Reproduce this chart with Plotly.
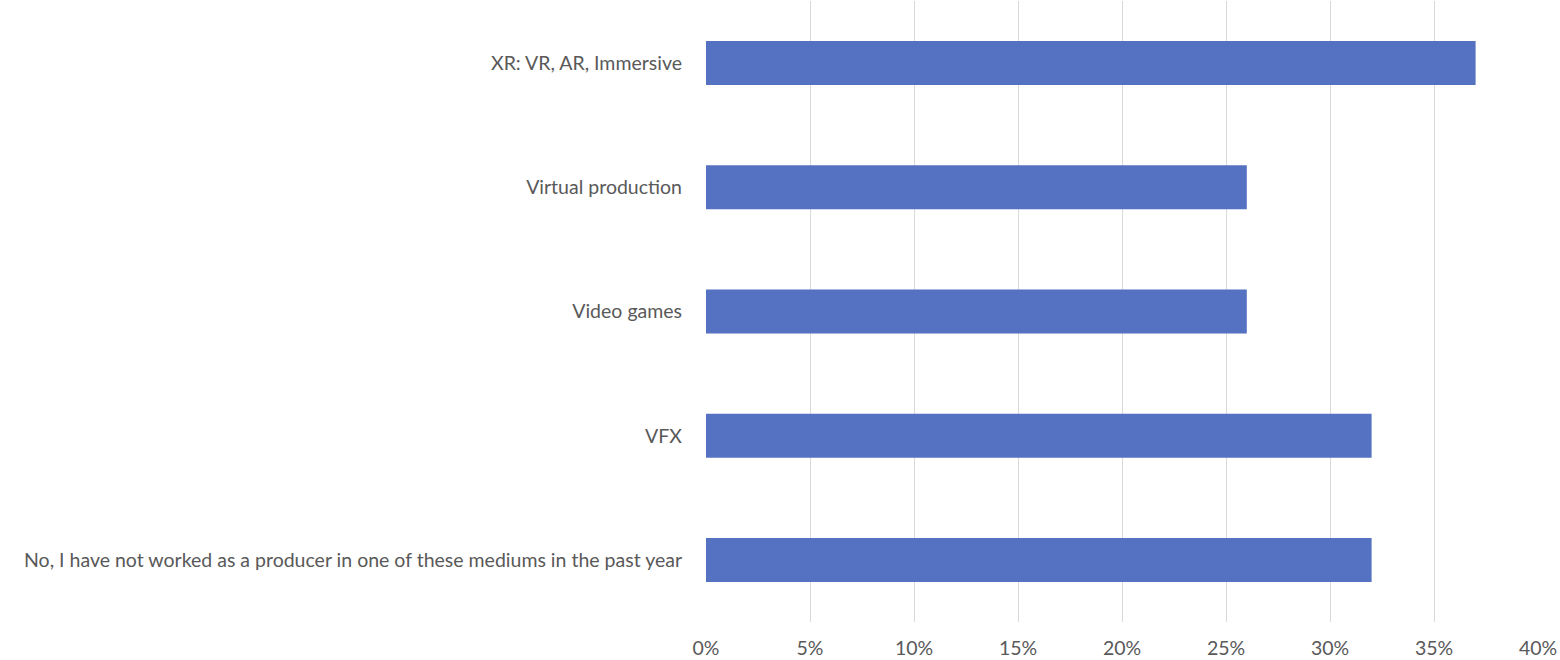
import plotly.graph_objects as go

# Survey responses: share of producers working in each medium
categories = [
    "XR: VR, AR, Immersive",
    "Virtual production",
    "Video games",
    "VFX",
    "No, I have not worked as a producer in one of these mediums in the past year",
]
shares = [37, 26, 26, 32, 32]
tick_values = [0, 5, 10, 15, 20, 25, 30, 35, 40]
tick_labels = [f"{v}%" for v in tick_values]

fig = go.Figure(
    go.Bar(
        x=shares,
        y=categories,
        orientation="h",
        marker=dict(color="#5571C1", line=dict(width=0)),
        hoverinfo="x+y",
    )
)

fig.update_layout(
    width=1560,
    height=660,
    margin=dict(l=706, r=22, t=1, b=38),
    paper_bgcolor="white",
    plot_bgcolor="white",
    bargap=0.646,
    showlegend=False,
    font=dict(family="Lato, Open Sans, sans-serif", size=19.5, color="#595959"),
)

fig.update_xaxes(
    range=[0, 40],
    tickmode="array",
    tickvals=tick_values,
    ticktext=tick_labels,
    showgrid=True,
    gridcolor="#d9d9d9",
    gridwidth=1,
    zeroline=False,
    showline=False,
    ticks="",
    ticklabelstandoff=12,
)

fig.update_yaxes(
    autorange="reversed",
    showgrid=False,
    zeroline=False,
    showline=False,
    ticks="",
    ticklabelstandoff=23,
)

fig.write_html("out.html")
